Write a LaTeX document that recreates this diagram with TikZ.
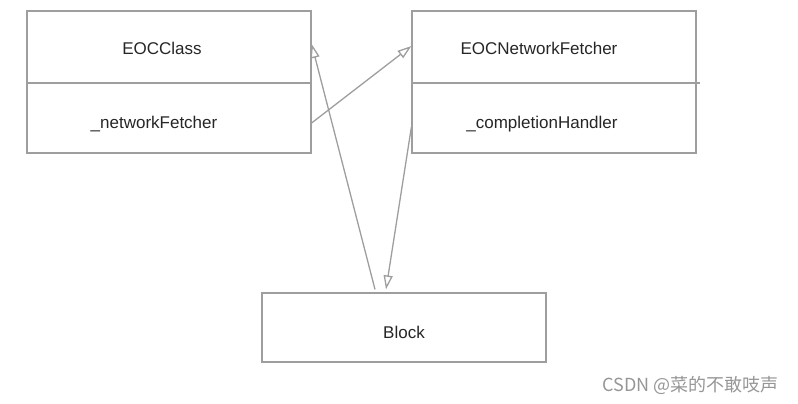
\documentclass[tikz,border=0pt]{standalone}
\usepackage{fontspec}
\setmainfont{Liberation Sans}
\newfontfamily\cjkfont{Noto Sans CJK SC}
\usetikzlibrary{arrows.meta,calc}
\definecolor{umlgray}{RGB}{158,158,158}
\definecolor{marktext}{RGB}{150,150,150}

\begin{document}
\begin{tikzpicture}[x=1pt,y=-1pt,
    box/.style={draw=umlgray,line width=1.2pt,minimum width=284pt,inner sep=0pt},
    txt/.style={text=black!85,font=\fontsize{17}{20}\selectfont},
    assoc/.style={draw=umlgray,line width=1.3pt,-{Triangle[open,length=14pt,width=9pt]}}]
	          %\draw[help lines] (0,0) grid[step=50] (798,404);
	          \useasboundingbox (0,0) rectangle (798,404);
	          % classes
	          \node[box,minimum height=142pt] (cls) at (169,82) {};
	          \node[box,minimum height=142pt] (fetch) at (554,82) {};
	          \node[box,minimum height=69pt] (blk) at (404,327.5) {};
	          \draw[umlgray,line width=1.2pt] (cls.west |- 0,83) -- (cls.east |- 0,83);
	          \draw[umlgray,line width=1.2pt] (fetch.west |- 0,83) -- (700,83);
	          \node[txt] (clsname) at (162,48) {EOCClass};
	          \node[txt] (clsfield) at (154,124) {\_networkFetcher};
	          \node[txt] (fetchname) at (539,48) {EOCNetworkFetcher};
	          \node[txt] (fetchfield) at (542,124) {\_completionHandler};
	          \node[txt] (blkname) at (404,332) {Block};
	          % references
	          \draw[assoc] ([xshift=-29pt,yshift=3pt]blk.north) -- ([yshift=38pt]cls.east);
	          \draw[assoc] ([yshift=-41pt]cls.east) -- ([yshift=36pt]fetch.west);
	          \draw[assoc] ([yshift=-45pt]fetch.west) -- ([xshift=-18pt,yshift=3pt]blk.north);
	          \node[text=marktext,font=\cjkfont\fontsize{18}{21}\selectfont,anchor=east] (mark) at (782,385) {CSDN @菜的不敢吱声};
\end{tikzpicture}
\end{document}
